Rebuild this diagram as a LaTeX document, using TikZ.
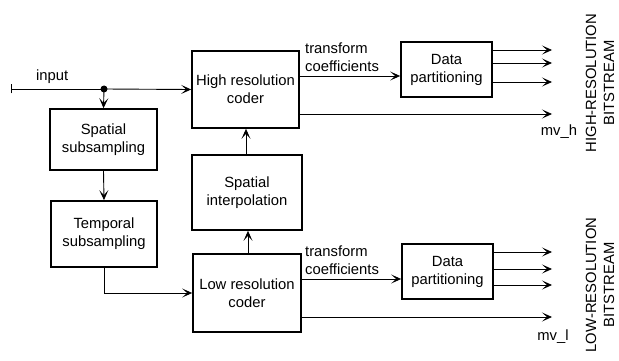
\documentclass[tikz,border=0pt]{standalone}
\usepackage{fontspec}
\setmainfont{Liberation Sans}
\usetikzlibrary{arrows.meta}
\begin{document}
\begin{tikzpicture}[x=1pt,y=-1pt,
  every node/.style={font=\fontsize{14.8}{18}\selectfont},
  blk/.style={draw,line width=1.7pt,align=center,inner sep=0pt},
  conn/.style={line width=0.9pt,-{Stealth[length=10pt,width=9pt,inset=5pt]}},
  plain/.style={line width=0.9pt},
  lbl/.style={inner sep=0pt,align=left}]
\useasboundingbox (0,0) rectangle (619,361);
\node[blk,minimum width=107pt,minimum height=77pt] (hc) at (245.5,89.5) {High resolution\\coder};
\node[blk,minimum width=107pt,minimum height=61pt] (ss) at (103.5,139.5) {Spatial\\subsampling};
\node[blk,minimum width=106pt,minimum height=66pt] (ts) at (104,234) {Temporal\\subsampling};
\node[blk,minimum width=110pt,minimum height=75pt] (si) at (247,192.5) {Spatial\\interpolation};
\node[blk,minimum width=108pt,minimum height=78pt] (lc) at (247,293) {Low resolution\\coder};
\node[blk,minimum width=91pt,minimum height=55pt] (dph) at (446.5,69.5) {Data\\partitioning};
\node[blk,minimum width=91pt,minimum height=55pt] (dpl) at (447.5,271.5) {Data\\partitioning};

\coordinate (in) at (11,89);
\coordinate (j) at (104,89);
\draw[plain,{Bar[width=9pt]}-] (in) -- (j);
\draw[conn] (j) -- (hc.west);
\fill (j) circle (3.5pt);
\draw[conn] (j) -- (ss.north);
\node[lbl,anchor=base west] (inl) at (36,81) {input};
\draw[conn] (ss.south) -- (ts.north);
\draw[conn] (ts.south) |- (lc.west);
\draw[conn] (lc.north -| 248,0) -- (si.south -| 248,0);
\draw[conn] (si.north -| 246,0) -- (hc.south -| 246,0);

% high branch
\draw[conn] (hc.east |- 0,76) -- (dph.west |- 0,76);
\node[lbl,anchor=south west] (tch) at (305,72) {transform\\coefficients};
\foreach \yy in {50,63,82}{\draw[conn] (dph.east |- 0,\yy) -- (552,\yy);}
\coordinate (mvhe) at (552,114);
\draw[conn] (hc.east |- 0,114) -- (mvhe);
\node[lbl] (mvh) at (559,132) {mv\_h};
\node[rotate=90,align=center,inner sep=0pt] (hb) at (600,83) {HIGH-RESOLUTION\\BITSTREAM};

% low branch
\draw[conn] (lc.east |- 0,279) -- (dpl.west |- 0,279);
\node[lbl,anchor=south west] (tcl) at (305,275) {transform\\coefficients};
\foreach \yy in {252,269,285}{\draw[conn] (dpl.east |- 0,\yy) -- (552,\yy);}
\coordinate (mvle) at (552,317);
\draw[conn] (lc.east |- 0,317) -- (mvle);
\node[lbl] (mvl) at (553,337) {mv\_l};
\node[rotate=90,align=center,inner sep=0pt] (lb) at (600,285) {LOW-RESOLUTION\\BITSTREAM};
\end{tikzpicture}
\end{document}
